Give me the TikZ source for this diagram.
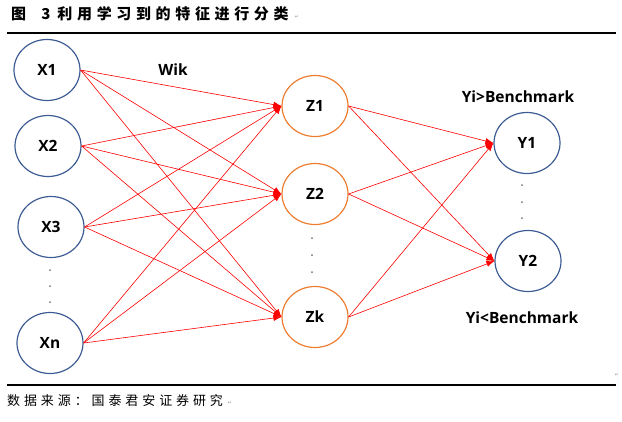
\documentclass[tikz,border=0pt]{standalone}
\usepackage{fontspec}
\newfontfamily\cjkjudul[LetterSpace=31]{Noto Sans CJK SC}
\newfontfamily\cjksumber[LetterSpace=30]{Noto Sans CJK SC}
\newfontfamily\lat{Open Sans}
\newfontfamily\simbol{DejaVu Sans}
\usetikzlibrary{shapes.geometric,arrows.meta}
\definecolor{biru}{RGB}{62,92,148}
\definecolor{oranye}{RGB}{237,125,49}
\definecolor{abu}{RGB}{150,150,150}
\begin{document}
\begin{tikzpicture}[x=1pt,y=-1pt,
    simpul/.style={ellipse,draw,line width=1.2pt,inner sep=0pt,
      minimum width=66pt,minimum height=61pt,
      font=\lat\bfseries\fontsize{15.5}{17}\selectfont},
    masuk/.style={simpul,draw=biru},
    antara/.style={simpul,draw=oranye},
    keluar/.style={simpul,draw=biru},
    ket/.style={font=\lat\bfseries\fontsize{15.5}{17}\selectfont,inner sep=0pt},
    enter/.style={font=\simbol\fontsize{5}{6}\selectfont,text=abu,inner sep=0pt},
    pn/.style={-{Latex[length=8pt,width=6pt]},red,line width=0.6pt}]

  \useasboundingbox (0,0) rectangle (622,421);

  % Judul dan garis atas
  \node[anchor=west,inner sep=0pt] (judul) at (11,14)
    {\cjkjudul\fontsize{15}{17}\selectfont\bfseries
     图\hspace{7pt} 3\hspace{-1pt} 利用学习到的特征进行分类};
  \node[enter] (e1) at (297,17) {↵};
  \draw[line width=1.2pt] (7,33) -- (616,33);

  % Lapisan masukan
  \node[masuk] (x1) at (47,70) {X1};
  \node[masuk] (x2) at (48,146) {X2};
  \node[masuk] (x3) at (51,227) {X3};
  \node[masuk] (xn) at (50,343) {Xn};

  % Lapisan tersembunyi
  \node[antara] (z1) at (315,106) {Z1};
  \node[antara] (z2) at (315,194) {Z2};
  \node[antara] (zk) at (315,317) {Zk};

  % Lapisan keluaran
  \node[keluar] (y1) at (527,143) {Y1};
  \node[keluar] (y2) at (528,261) {Y2};

  % Keterangan
  \node[ket] (wik) at (173,70) {Wik};
  \node[ket] (atas) at (518,97) {Yi>Benchmark};
  \node[ket] (bawah) at (522,318) {Yi<Benchmark};

  % Titik-titik
  \foreach \y in {270,286,302} {\fill[black!55] (50,\y) circle (1pt);}
  \foreach \y in {238,255,272} {\fill[black!55] (312,\y) circle (1pt);}
  \foreach \y in {185,202,218} {\fill[black!55] (522,\y) circle (1pt);}

  % Panah antar lapisan
  \foreach \a in {x1,x2,x3,xn}
    {\foreach \b in {z1,z2,zk} {\draw[pn] (\a.east) -- (\b.west);}}
  \foreach \a in {z1,z2,zk}
    {\foreach \b in {y1,y2} {\draw[pn] (\a.east) -- (\b.west);}}

  % Garis bawah dan sumber
  \node[enter] (e2) at (617,375) {↵};
  \draw[line width=1.2pt] (7,385) -- (616,385);
  \node[anchor=west,inner sep=0pt] (sumber) at (7,401)
    {\cjksumber\fontsize{13}{15}\selectfont 数据来源：国泰君安证券研究};
  \node[enter] (e3) at (230,403) {↵};
\end{tikzpicture}
\end{document}
